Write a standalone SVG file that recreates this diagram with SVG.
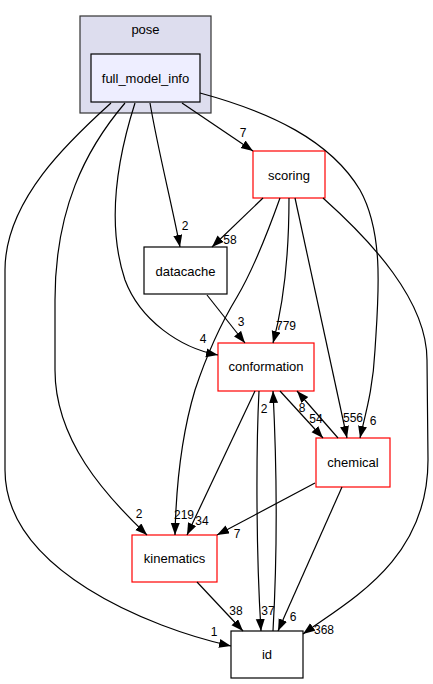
<svg xmlns="http://www.w3.org/2000/svg" width="433" height="684" viewBox="0 0 433 684">
<defs>
<style>
.node rect{fill:#ffffff;stroke-width:1.2}
.red rect{stroke:#ff0000}
.blk rect{stroke:#000000}
.node text,.cl text{font-family:"Liberation Sans",Arial,sans-serif;font-size:13px;fill:#000;text-anchor:middle}
.edges path{fill:none;stroke:#000;stroke-width:1.2;marker-end:url(#ah)}
.edges text{font-family:"Liberation Sans",Arial,sans-serif;font-size:12px;fill:#000;text-anchor:middle}
</style>
<marker id="ah" markerUnits="userSpaceOnUse" markerWidth="13" markerHeight="10" refX="12" refY="4.5" orient="auto">
<path d="M0,0 L12,4.5 L0,9 z" fill="#000"/>
</marker>
</defs>
<rect width="433" height="684" fill="#ffffff"/>
<g id="cluster_pose" class="cl">
<rect x="80" y="16" width="131" height="97" fill="#ddddee" stroke="#333333" stroke-width="1.2"/>
<text x="145.5" y="33.5">pose</text>
</g>
<g id="node_full_model_info" class="node">
<rect x="91" y="54" width="109" height="48" stroke="#000" style="fill:#eeeeff"/>
<text x="145.5" y="82.5">full_model_info</text>
</g>
<g id="node_scoring" class="node red">
<rect x="253" y="151" width="72" height="47"/>
<text x="289" y="179.5">scoring</text>
</g>
<g id="node_datacache" class="node blk">
<rect x="144" y="247" width="83" height="47"/>
<text x="185.5" y="275.5">datacache</text>
</g>
<g id="node_conformation" class="node red">
<rect x="218" y="343" width="96" height="48"/>
<text x="266" y="371">conformation</text>
</g>
<g id="node_chemical" class="node red">
<rect x="316" y="438" width="74" height="49"/>
<text x="353" y="466.5">chemical</text>
</g>
<g id="node_kinematics" class="node red">
<rect x="132" y="535" width="85" height="47"/>
<text x="174.5" y="562.5">kinematics</text>
</g>
<g id="node_id" class="node blk">
<rect x="231" y="631" width="72" height="47"/>
<text x="267" y="658.5">id</text>
</g>
<g id="edges" class="edges">
<path d="M182,103 L253,151"/><text x="243" y="137">7</text>
<path d="M200,93 C270,112 330,140 360,190 C385,235 378,300 375,350 C373,390 365,415 360,438"/><text x="373" y="425">6</text>
<path d="M150,103 C158,150 172,205 180,247"/><text x="185" y="230">2</text>
<path d="M135,103 C120,150 105,220 125,280 C140,320 180,348 218,355"/><text x="203" y="343">4</text>
<path d="M125,103 C85,150 55,210 55,300 L55,370 C55,440 105,495 147,535"/><text x="139" y="518">2</text>
<path d="M111,103 C70,140 5,200 5,270 L5,470 C5,570 150,628 231,646"/><text x="214" y="636">1</text>
<path d="M263,198 L212,247"/><text x="230" y="244">58</text>
<path d="M289,198 C289,240 286,295 273,343"/><text x="286" y="330">779</text>
<path d="M280,198 C265,240 250,275 237,297 C220,325 205,360 195,390 C180,440 176,490 175,535"/><text x="184" y="519">219</text>
<path d="M295,198 L347,438"/><text x="353" y="422">556</text>
<path d="M323,198 C370,240 427,300 427,360 L428,460 C428,560 350,600 303,634"/><text x="324" y="634">368</text>
<path d="M207,295 L245,343"/><text x="241" y="326">3</text>
<path d="M255,391 L187,535"/><text x="202" y="525">34</text>
<path d="M259,391 C256,450 256,550 261,631"/><text x="264" y="413">2</text>
<path d="M273,631 C277,560 277,470 273,391"/><text x="268" y="615">37</text>
<path d="M280,391 L323,438"/><text x="316" y="423">54</text>
<path d="M338,438 L297,391"/><text x="302" y="412">8</text>
<path d="M315,483 L217,535"/><text x="237" y="538">7</text>
<path d="M342,487 L278,631"/><text x="293" y="621">6</text>
<path d="M197,582 L243,631"/><text x="236" y="615">38</text>
</g>
</svg>
